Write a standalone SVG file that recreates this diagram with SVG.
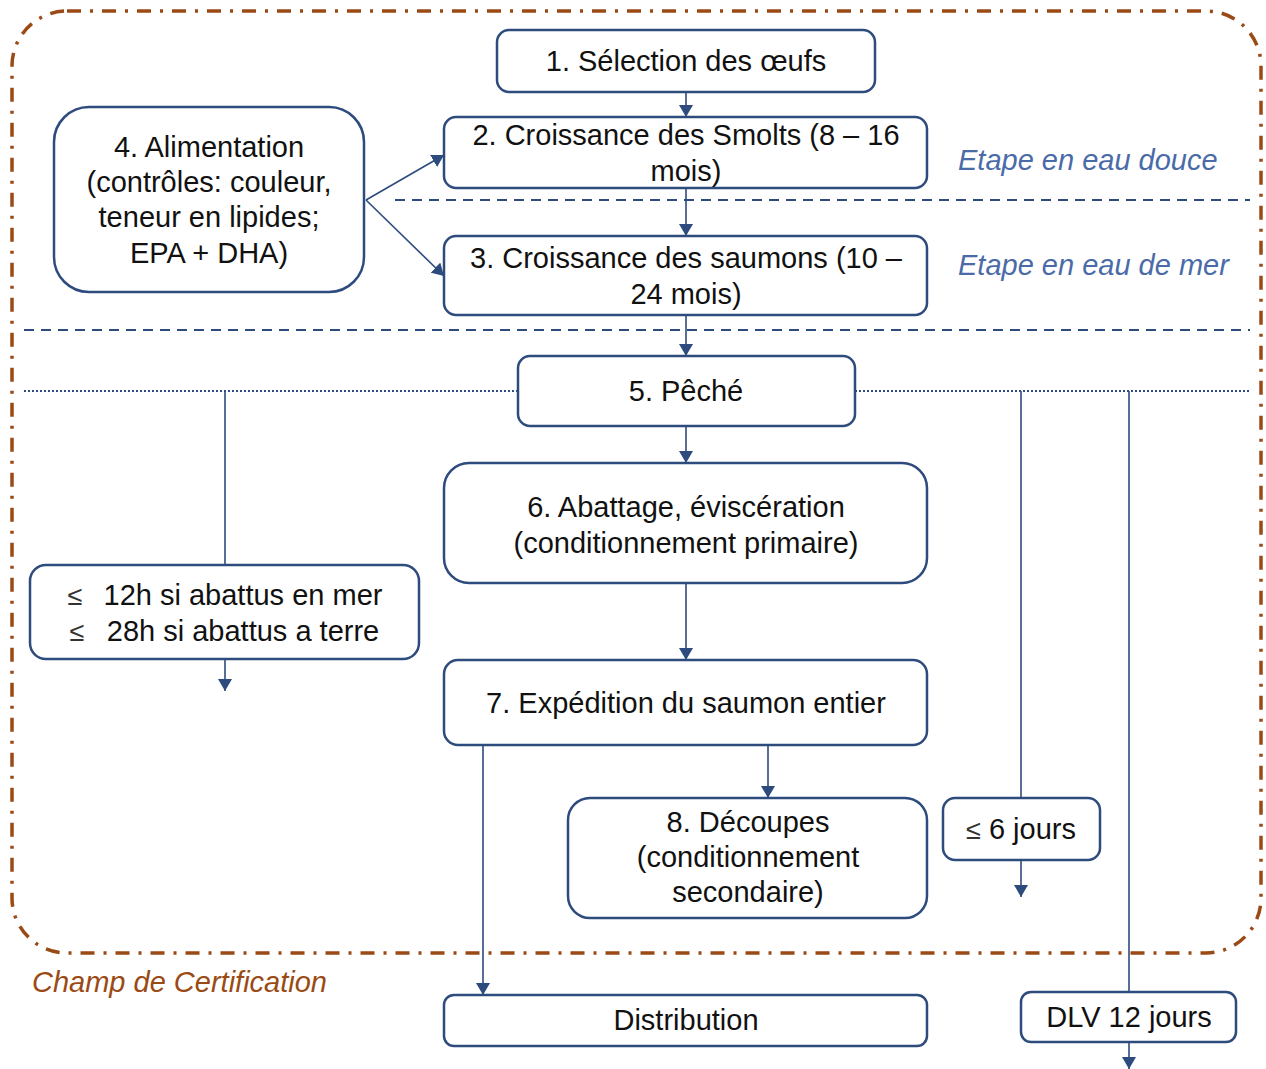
<svg xmlns="http://www.w3.org/2000/svg" width="1266" height="1069" viewBox="0 0 1266 1069">
<style>
.n{fill:#fff;stroke:#2E4B7E;stroke-width:2.5}
.t{font-family:"Liberation Sans",Arial,sans-serif;font-size:29px;fill:#111;text-anchor:middle}
.c{stroke:#2E4B7E;stroke-width:1.6;fill:none}
.lab{font-family:"Liberation Sans",Arial,sans-serif;font-size:29px;font-style:italic;fill:#4A6BA8}
.le{font-size:27px;fill:#333}
</style>
<defs>
<marker id="ar" viewBox="0 0 12 14" refX="12" refY="7" markerWidth="12" markerHeight="14" markerUnits="userSpaceOnUse" orient="auto">
<path d="M0,0 L12,7 L0,14 z" fill="#2E4B7E"/>
</marker>
</defs>
<rect id="scope" x="12" y="11" width="1249" height="942" rx="55" fill="none" stroke="#9A4A14" stroke-width="3.5" stroke-dasharray="14,9,3,9"/>
<text x="32" y="992" style="font-family:'Liberation Sans',Arial,sans-serif;font-size:29px;font-style:italic;fill:#9A4A14">Champ de Certification</text>
<g id="separators">
<line x1="395" y1="200" x2="1250" y2="200" stroke="#2E4B7E" stroke-width="2" stroke-dasharray="10,7"/>
<line x1="24" y1="330" x2="1250" y2="330" stroke="#2E4B7E" stroke-width="2" stroke-dasharray="10,7"/>
<line x1="24" y1="391" x2="518" y2="391" stroke="#2E4B7E" stroke-width="2" stroke-dasharray="2,2"/>
<line x1="855" y1="391" x2="1250" y2="391" stroke="#2E4B7E" stroke-width="2" stroke-dasharray="2,2"/>
</g>
<text class="lab" x="958" y="170">Etape en eau douce</text>
<text class="lab" x="958" y="275">Etape en eau de mer</text>
<g id="connectors">
<line class="c" x1="686" y1="92" x2="686" y2="117" marker-end="url(#ar)"/>
<line class="c" x1="686" y1="188" x2="686" y2="236" marker-end="url(#ar)"/>
<line class="c" x1="686" y1="315" x2="686" y2="356" marker-end="url(#ar)"/>
<line class="c" x1="366" y1="200" x2="444" y2="155" marker-end="url(#ar)"/>
<line class="c" x1="366" y1="200" x2="444" y2="276" marker-end="url(#ar)"/>
<line class="c" x1="686" y1="426" x2="686" y2="463" marker-end="url(#ar)"/>
<line class="c" x1="686" y1="583" x2="686" y2="660" marker-end="url(#ar)"/>
<line class="c" x1="768" y1="745" x2="768" y2="798" marker-end="url(#ar)"/>
<line class="c" x1="483" y1="745" x2="483" y2="995" marker-end="url(#ar)"/>
<line class="c" x1="225" y1="391" x2="225" y2="565"/>
<line class="c" x1="225" y1="659" x2="225" y2="691" marker-end="url(#ar)"/>
<line class="c" x1="1021" y1="391" x2="1021" y2="798"/>
<line class="c" x1="1021" y1="860" x2="1021" y2="897" marker-end="url(#ar)"/>
<line class="c" x1="1129" y1="391" x2="1129" y2="992"/>
<line class="c" x1="1129" y1="1042" x2="1129" y2="1069" marker-end="url(#ar)"/>
</g>
<g id="n1"><rect class="n" x="497" y="30" width="378" height="62" rx="12"/><text class="t" x="686" y="71">1. Sélection des œufs</text></g>
<g id="n2"><rect class="n" x="444" y="117" width="483" height="71" rx="12"/><text class="t" x="686" y="145">2. Croissance des Smolts (8 – 16</text><text class="t" x="686" y="181">mois)</text></g>
<g id="n3"><rect class="n" x="444" y="236" width="483" height="79" rx="12"/><text class="t" x="686" y="268">3. Croissance des saumons (10 –</text><text class="t" x="686" y="304">24 mois)</text></g>
<g id="n4"><rect class="n" x="54" y="107" width="310" height="185" rx="35"/><text class="t" x="209" y="157">4. Alimentation</text><text class="t" x="209" y="192">(contrôles: couleur,</text><text class="t" x="209" y="227">teneur en lipides;</text><text class="t" x="209" y="263">EPA + DHA)</text></g>
<g id="n5"><rect class="n" x="518" y="356" width="337" height="70" rx="12"/><text class="t" x="686" y="401">5. Pêché</text></g>
<g id="n6"><rect class="n" x="444" y="463" width="483" height="120" rx="25"/><text class="t" x="686" y="517">6. Abattage, éviscération</text><text class="t" x="686" y="553">(conditionnement primaire)</text></g>
<g id="n7"><rect class="n" x="444" y="660" width="483" height="85" rx="14"/><text class="t" x="686" y="713">7. Expédition du saumon entier</text></g>
<g id="n8"><rect class="n" x="568" y="798" width="359" height="120" rx="22"/><text class="t" x="748" y="832">8. Découpes</text><text class="t" x="748" y="867">(conditionnement</text><text class="t" x="748" y="902">secondaire)</text></g>
<g id="d6"><rect class="n" x="943" y="798" width="157" height="62" rx="12"/><text class="t" x="1021" y="839"><tspan class="le">≤</tspan> 6 jours</text></g>
<g id="d12"><rect class="n" x="30" y="565" width="389" height="94" rx="16"/><text class="t le" x="75" y="605">≤</text><text class="t" x="243" y="605">12h si abattus en mer</text><text class="t le" x="77" y="641">≤</text><text class="t" x="243" y="641">28h si abattus a terre</text></g>
<g id="dist"><rect class="n" x="444" y="995" width="483" height="51" rx="10"/><text class="t" x="686" y="1030">Distribution</text></g>
<g id="dlv"><rect class="n" x="1021" y="992" width="215" height="50" rx="10"/><text class="t" x="1129" y="1027">DLV 12 jours</text></g>
</svg>
